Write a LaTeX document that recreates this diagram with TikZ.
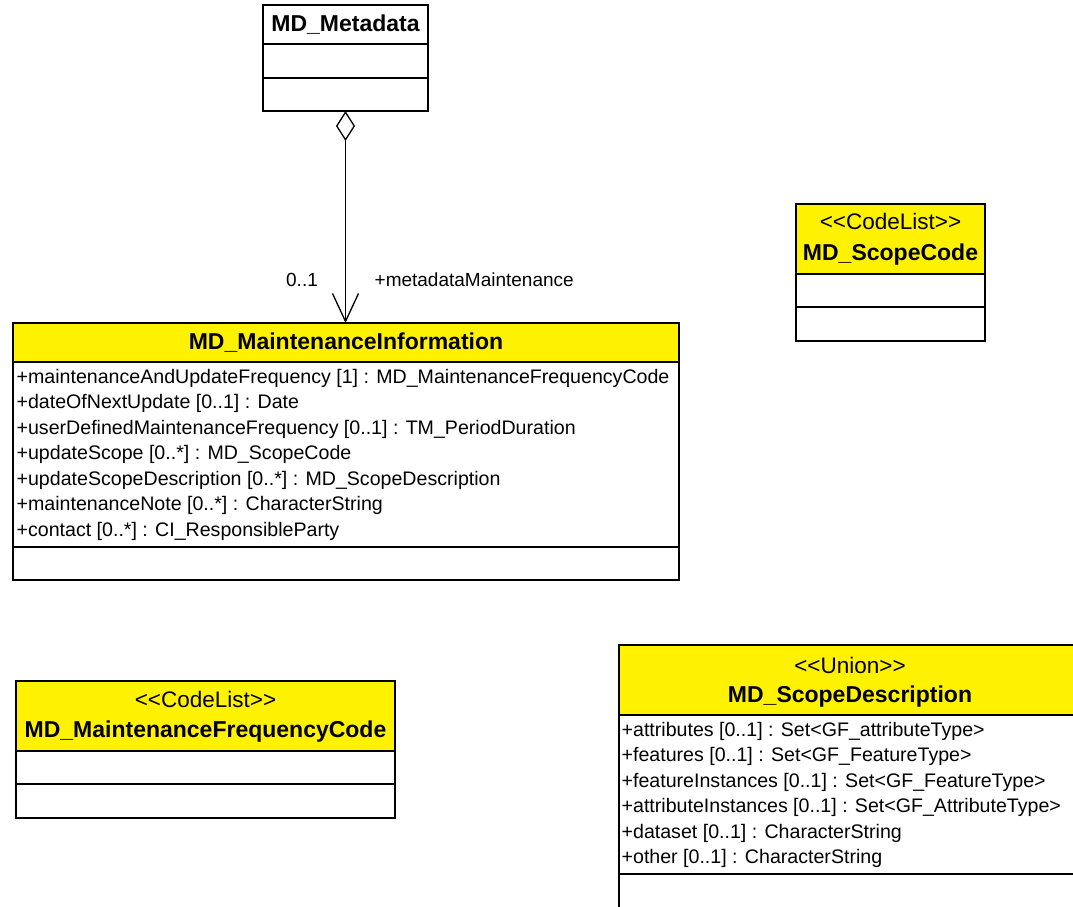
\documentclass[tikz,border=0pt]{standalone}
\usepackage{fontspec}
\newfontfamily\umlfont{Liberation Sans}
\usetikzlibrary{arrows.meta}
\begin{document}
\begin{tikzpicture}[x=1pt,y=-1pt, line width=1.3pt,
  box/.style={draw, inner sep=0pt, outer sep=0pt, anchor=north west},
  band/.style={fill=yellow, draw},
  ttl/.style={font=\umlfont\fontsize{23}{26}\selectfont\bfseries, inner sep=0pt},
  stereo/.style={font=\umlfont\fontsize{22.5}{25}\selectfont, inner sep=0pt},
  attr/.style={font=\umlfont\fontsize{19.6}{22}\selectfont, anchor=west, inner sep=0pt},
  lbl/.style={font=\umlfont\fontsize{19}{22}\selectfont, inner sep=0pt}]
\useasboundingbox (0,0) rectangle (1073,906);
\clip (0,0) rectangle (1073,906);
\fill[white] (0,0) rectangle (1073,906);

% MD_Metadata
\node[box, minimum width=165pt, minimum height=106pt] (meta) at (263,5) {};
\draw (263,44) -- (428,44);
\draw (263,78) -- (428,78);
\node[ttl] (metaT) at (345.5,25) {MD\_Metadata};

% MD_MaintenanceInformation
\path[band] (13,323) rectangle (679,362);
\node[box, minimum width=666pt, minimum height=257pt] (maint) at (13,323) {};
\draw (13,547) -- (679,547);
\node[ttl] (maintT) at (346,343) {MD\_MaintenanceInformation};
\node[attr] (ma1) at (16,378) {+maintenanceAndUpdateFrequency [1] : MD\_MaintenanceFrequencyCode};
\node[attr] (ma2) at (16,403.5) {+dateOfNextUpdate [0..1] : Date};
\node[attr] (ma3) at (16,429) {+userDefinedMaintenanceFrequency [0..1] : TM\_PeriodDuration};
\node[attr] (ma4) at (16,454.5) {+updateScope [0..*] : MD\_ScopeCode};
\node[attr] (ma5) at (16,480) {+updateScopeDescription [0..*] : MD\_ScopeDescription};
\node[attr] (ma6) at (16,505.5) {+maintenanceNote [0..*] : CharacterString};
\node[attr] (ma7) at (16,531) {+contact [0..*] : CI\_ResponsibleParty};

% association
\draw[{Diamond[open,fill=white,length=30pt,width=19pt]}-{Straight Barb[length=28pt,width=26pt]}]
  (meta.south) -- (meta.south |- maint.north);
\node[lbl] (mult) at (302,280) {0..1};
\node[lbl, anchor=west] (role) at (374,280) {+metadataMaintenance};

% MD_ScopeCode
\path[band] (796,204) rectangle (985,274);
\node[box, minimum width=189pt, minimum height=137pt] (scode) at (796,204) {};
\draw (796,307) -- (985,307);
\node[stereo] (scodeS) at (890.5,221) {<<CodeList>>};
\node[ttl] (scodeT) at (890.5,255) {MD\_ScopeCode};

% MD_MaintenanceFrequencyCode
\path[band] (16,681) rectangle (395,751);
\node[box, minimum width=379pt, minimum height=137pt] (mfc) at (16,681) {};
\draw (16,784) -- (395,784);
\node[stereo] (mfcS) at (205.5,699) {<<CodeList>>};
\node[ttl] (mfcT) at (205.5,732) {MD\_MaintenanceFrequencyCode};

% MD_ScopeDescription
\path[band] (619,645) rectangle (1085,715);
\node[box, minimum width=466pt, minimum height=290pt] (sdesc) at (619,645) {};
\draw (619,874) -- (1085,874);
\node[stereo] (sdescS) at (850,665) {<<Union>>};
\node[ttl] (sdescT) at (850,697) {MD\_ScopeDescription};
\node[attr] (sd1) at (621,731) {+attributes [0..1] : Set<GF\_attributeType>};
\node[attr] (sd2) at (621,756.5) {+features [0..1] : Set<GF\_FeatureType>};
\node[attr] (sd3) at (621,782) {+featureInstances [0..1] : Set<GF\_FeatureType>};
\node[attr] (sd4) at (621,807.5) {+attributeInstances [0..1] : Set<GF\_AttributeType>};
\node[attr] (sd5) at (621,833) {+dataset [0..1] : CharacterString};
\node[attr] (sd6) at (621,858.5) {+other [0..1] : CharacterString};
\end{tikzpicture}
\end{document}
